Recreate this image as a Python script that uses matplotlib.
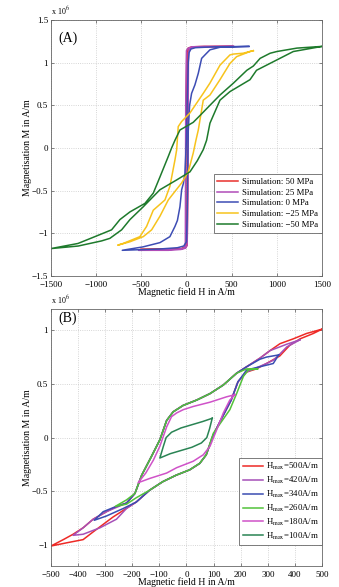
import matplotlib
matplotlib.use("Agg")
import matplotlib.pyplot as plt
from matplotlib.ticker import FuncFormatter

plt.rcParams['font.family'] = ['Liberation Serif', 'DejaVu Serif']
plt.rcParams['mathtext.fontset'] = 'stix'

# ---- panel (A): stress dependent loops, H in A/m, M in 1e6 A/m ----
a_labels = ['Simulation: 50 MPa', 'Simulation: 25 MPa', 'Simulation: 0 MPa',
            'Simulation: \u221225 MPa', 'Simulation: \u221250 MPa']
a_colors = ['#e8302c', '#b04cb8', '#3d4db4', '#f7c31c', '#1e7a2c']

h_50 = [510, 200, 60, 20, 4, -4, -8, -15, -60, -200, -510,
        -200, -60, -10, 8, 14, 18, 30, 80, 200, 510]
m_50 = [1.19, 1.19, 1.185, 1.17, 1.14, 0.5, -1.12, -1.165, -1.18, -1.185, -1.19,
        -1.19, -1.185, -1.17, -1.14, -0.5, 1.12, 1.165, 1.18, 1.185, 1.19]

h_25 = [520, 200, 60, 20, 0, -8, -12, -20, -60, -200, -530,
        -200, -60, -10, 8, 16, 22, 35, 80, 200, 520]
m_25 = [1.19, 1.19, 1.185, 1.17, 1.14, 0.5, -1.12, -1.17, -1.185, -1.19, -1.2,
        -1.2, -1.19, -1.175, -1.14, -0.5, 1.12, 1.165, 1.18, 1.185, 1.19]

h_0 = [690, 300, 100, 50, 30, 20, 10, 0, -17, -35, -53, -72, -100, -127, -183, -293, -481, -710,
       -300, -100, -30, 0, 8, 12, 20, 35, 57, 94, 131, 168, 223, 260, 371, 690]
m_0 = [1.19, 1.185, 1.175, 1.16, 1.12, 1.0, 0.6, 0.1, -0.30, -0.42, -0.49, -0.69, -0.85, -0.92, -1.04, -1.11, -1.16, -1.2,
       -1.185, -1.17, -1.15, -1.10, -0.8, -0.3, 0.2, 0.5, 0.64, 0.74, 0.875, 1.05, 1.11, 1.15, 1.18, 1.19]

h_m25 = [740, 627, 518, 481, 389, 371, 260, 186, 39, -53, -91, -108, -127, -183, -238, -367, -441, -515, -700, -760,
         -625, -478, -385, -293, -201, -53, 20, 75, 105, 131, 186, 260, 371, 481, 555, 703, 740]
m_m25 = [1.14, 1.11, 1.10, 1.09, 0.99, 0.97, 0.76, 0.64, 0.41, 0.31, 0.25, -0.02, -0.14, -0.45, -0.61, -0.73, -0.92, -1.04, -1.12, -1.14,
         -1.10, -1.04, -0.96, -0.80, -0.61, -0.41, -0.28, -0.06, 0.09, 0.21, 0.56, 0.62, 0.80, 0.99, 1.07, 1.13, 1.14]

h_m50 = [1500, 1222, 1000, 926, 815, 740, 668, 520, 371, 260, 150, 75, -72, -127, -164, -201, -293, -367, -459,
         -625, -736, -828, -1013, -1200, -1500,
         -1198, -939, -847, -717, -625, -478, -293, -108, 39, 120, 186, 223, 260, 371, 481, 592, 703, 775, 886,
         997, 1182, 1500]
m_m50 = [1.19, 1.17, 1.13, 1.11, 1.05, 0.96, 0.91, 0.76, 0.62, 0.50, 0.38, 0.30, 0.21, 0.09, 0.0, -0.10, -0.34, -0.53, -0.65,
         -0.75, -0.84, -0.96, -1.04, -1.12, -1.18,
         -1.15, -1.09, -1.06, -0.96, -0.84, -0.69, -0.49, -0.375, -0.28, -0.15, -0.02, 0.09, 0.29, 0.56, 0.66, 0.73, 0.80, 0.91, 0.97,
         1.03, 1.13, 1.19]

# ---- panel (B): minor loops for several H_max ----
b_labels = [r'H$_{\mathrm{max}}$=500A/m', r'H$_{\mathrm{max}}$=420A/m', r'H$_{\mathrm{max}}$=340A/m',
            r'H$_{\mathrm{max}}$=260A/m', r'H$_{\mathrm{max}}$=180A/m', r'H$_{\mathrm{max}}$=100A/m']
b_colors = ['#ee2a26', '#a650b8', '#3a4db2', '#52c23a', '#cf52c8', '#2a8454']

h_500 = [500, 443, 394, 345, 308, 271, 222, 185, 136, 87, 38, -12, -49, -73, -98, -130, -165, -190, -221, -258,
         -295, -344, -381, -418, -454, -500,
         -442, -381, -345, -308, -271, -222, -185, -136, -87, -38, 12, 49, 73, 98, 130, 165, 190, 221, 258,
         295, 344, 381, 419, 468, 500]
m_500 = [1.01, 0.97, 0.92, 0.875, 0.81, 0.74, 0.66, 0.60, 0.49, 0.41, 0.35, 0.30, 0.24, 0.16, -0.02, -0.18, -0.35, -0.52, -0.61, -0.64,
         -0.69, -0.76, -0.84, -0.90, -0.95, -1.01,
         -0.98, -0.95, -0.88, -0.81, -0.74, -0.66, -0.60, -0.49, -0.41, -0.35, -0.30, -0.24, -0.16, 0.02, 0.18, 0.35, 0.52, 0.61, 0.64,
         0.69, 0.76, 0.86, 0.92, 0.97, 1.01]

h_420 = [418, 370, 308, 271, 222, 185, 136, 87, 38, -12, -49, -73, -98, -130, -165, -190, -221, -258, -295, -344, -381, -418,
         -381, -319, -258, -221, -185, -136, -87, -38, 12, 49, 73, 98, 130, 165, 190, 221, 258, 295, 320, 345, 370, 418]
m_420 = [0.91, 0.87, 0.81, 0.74, 0.66, 0.60, 0.49, 0.41, 0.35, 0.30, 0.24, 0.16, -0.02, -0.18, -0.35, -0.52, -0.61, -0.65, -0.69, -0.76, -0.84, -0.91,
         -0.90, -0.84, -0.76, -0.66, -0.60, -0.49, -0.41, -0.35, -0.30, -0.24, -0.16, 0.02, 0.18, 0.35, 0.52, 0.61, 0.65, 0.69, 0.72, 0.78, 0.845, 0.91]

h_340 = [340, 295, 271, 222, 185, 136, 87, 38, -12, -49, -73, -98, -130, -165, -190, -221, -258, -307, -340,
         -295, -233, -185, -136, -87, -38, 12, 49, 73, 98, 130, 165, 190, 222, 271, 320, 340]
m_340 = [0.77, 0.75, 0.73, 0.66, 0.60, 0.49, 0.41, 0.35, 0.30, 0.24, 0.16, -0.02, -0.18, -0.35, -0.52, -0.61, -0.64, -0.69, -0.77,
         -0.73, -0.66, -0.60, -0.49, -0.41, -0.35, -0.30, -0.24, -0.16, 0.02, 0.18, 0.35, 0.52, 0.63, 0.66, 0.69, 0.77]

h_260 = [262, 222, 185, 136, 87, 38, -12, -49, -73, -98, -130, -165, -190, -221, -262,
         -221, -185, -136, -87, -38, 12, 49, 73, 99, 124, 160, 185, 210, 228, 262]
m_260 = [0.64, 0.64, 0.60, 0.49, 0.41, 0.35, 0.30, 0.24, 0.16, -0.02, -0.18, -0.35, -0.52, -0.58, -0.64,
         -0.62, -0.56, -0.49, -0.41, -0.35, -0.30, -0.24, -0.16, 0.04, 0.13, 0.26, 0.41, 0.57, 0.63, 0.64]

h_180 = [179, 148, 87, 25, -12, -36, -55, -73, -98, -122, -150, -178,
         -135, -73, -36, 25, 62, 87, 111, 136, 160, 179]
m_180 = [0.40, 0.38, 0.33, 0.29, 0.26, 0.23, 0.195, 0.10, -0.08, -0.21, -0.33, -0.42,
         -0.38, -0.33, -0.28, -0.22, -0.16, -0.08, 0.07, 0.23, 0.35, 0.40]

h_100 = [95, 60, 20, -20, -55, -75, -85, -98,
         -60, -20, 20, 55, 75, 85, 95]
m_100 = [0.18, 0.15, 0.12, 0.09, 0.05, 0.0, -0.08, -0.19,
         -0.15, -0.12, -0.09, -0.05, 0.0, 0.08, 0.18]

a_h = [h_50, h_25, h_0, h_m25, h_m50]
a_m = [m_50, m_25, m_0, m_m25, m_m50]
b_h = [h_500, h_420, h_340, h_260, h_180, h_100]
b_m = [m_500, m_420, m_340, m_260, m_180, m_100]


def fmt(v, pos):
    return ('%g' % v).replace('-', '\u2212')


def style_axes(ax):
    ax.grid(True, linestyle=':', color='#c8c8c8', linewidth=0.6)
    ax.tick_params(direction='in', top=True, right=True, labelsize=6.5,
                   length=2.5, width=0.5, color='#555555', pad=2)
    ax.tick_params(axis='x', pad=3.4)
    for s in ax.spines.values():
        s.set_color('#666666')
        s.set_linewidth(0.6)
    ax.yaxis.set_major_formatter(FuncFormatter(fmt))
    ax.xaxis.set_major_formatter(FuncFormatter(fmt))
    ax.set_xlabel('Magnetic field H in A/m', fontsize=7, labelpad=-1)
    ax.set_ylabel('Magnetisation M in A/m', fontsize=7, labelpad=0)
    ax.text(0.0, 1.01, r'x 10$^{6}$', transform=ax.transAxes, fontsize=5.8,
            ha='left', va='bottom')


def style_legend(leg):
    leg.get_frame().set_edgecolor('#666666')
    leg.get_frame().set_linewidth(0.6)


fig = plt.figure(figsize=(3.39, 5.87), dpi=100)

ax1 = fig.add_axes([0.150, 0.530, 0.800, 0.436])
for h, m, c, lab in zip(a_h, a_m, a_colors, a_labels):
    ax1.plot(h, m, color=c, linewidth=1.1, label=lab)
ax1.set_xlim(-1500, 1500)
ax1.set_ylim(-1.5, 1.5)
ax1.set_xticks(range(-1500, 1501, 500))
ax1.set_yticks([-1.5, -1, -0.5, 0, 0.5, 1, 1.5])
style_axes(ax1)
ax1.text(0.026, 0.93, '(A)', transform=ax1.transAxes, fontsize=10, va='center')
leg1 = ax1.legend(loc='lower right', bbox_to_anchor=(1.0, 0.168), borderaxespad=0,
                  fontsize=6.3, handlelength=2.4, handletextpad=0.4, labelspacing=0.3,
                  borderpad=0.45, fancybox=False, framealpha=1)
style_legend(leg1)

ax2 = fig.add_axes([0.150, 0.035, 0.800, 0.439])
for h, m, c, lab in zip(b_h, b_m, b_colors, b_labels):
    ax2.plot(h, m, color=c, linewidth=1.1, label=lab)
ax2.set_xlim(-500, 500)
ax2.set_ylim(-1.2, 1.2)
ax2.set_xticks(range(-500, 501, 100))
ax2.set_yticks([-1, -0.5, 0, 0.5, 1])
style_axes(ax2)
ax2.text(0.026, 0.965, '(B)', transform=ax2.transAxes, fontsize=10, va='center')
leg2 = ax2.legend(loc='lower right', bbox_to_anchor=(1.0, 0.083), borderaxespad=0,
                  fontsize=6.3, handlelength=2.3, handletextpad=0.3, labelspacing=0.3,
                  borderpad=0.4, fancybox=False, framealpha=1)
style_legend(leg2)

fig.savefig('out.png', dpi=100)
